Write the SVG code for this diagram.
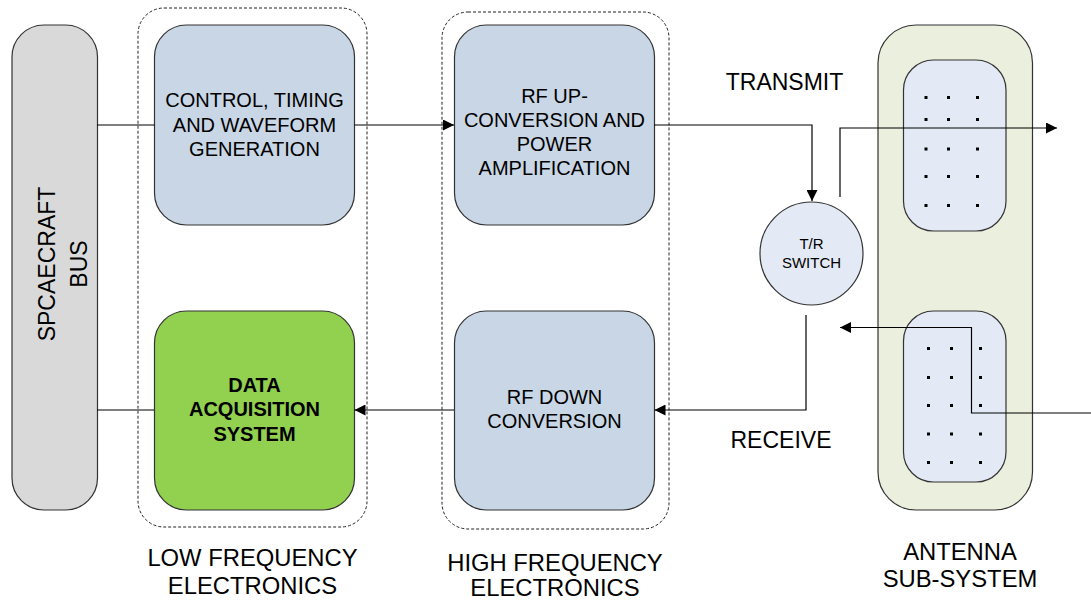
<svg xmlns="http://www.w3.org/2000/svg" width="1091" height="605" viewBox="0 0 1091 605">
<style>
text{font-family:"Liberation Sans",Arial,sans-serif;fill:#000;text-anchor:middle}
.box{fill:#C8D6E5;stroke:#333;stroke-width:1.2}
.grp{fill:none;stroke:#222;stroke-width:1;stroke-dasharray:3,2}
.c{fill:none;stroke:#000;stroke-width:1.2}
.bt{font-size:20px}
.lbl{font-size:23.8px}
.dot{fill:#000}
</style>
<defs>
<marker id="ah" viewBox="0 0 10 10" refX="10" refY="5" markerWidth="16" markerHeight="11" markerUnits="userSpaceOnUse" orient="auto">
<path d="M0,0 L10,5 L0,10 z" fill="#000"/>
</marker>
</defs>
<g id="low-freq-group">
<rect class="grp" x="138" y="8" width="229" height="519" rx="26"/>
<text class="lbl" x="252.5" y="566">LOW FREQUENCY</text>
<text class="lbl" x="252.5" y="594">ELECTRONICS</text>
</g>
<g id="high-freq-group">
<rect class="grp" x="442" y="12" width="227" height="517" rx="26"/>
<text class="lbl" x="555" y="570.5">HIGH FREQUENCY</text>
<text class="lbl" x="555" y="595.5">ELECTRONICS</text>
</g>
<g id="spacecraft-bus">
<rect x="12" y="25" width="85.5" height="485" rx="32" fill="#D9D9D9" stroke="#333" stroke-width="1.2"/>
<text font-size="23" transform="translate(55,264) rotate(-90)">SPCAECRAFT</text>
<text font-size="23" transform="translate(87,264) rotate(-90)">BUS</text>
</g>
<g id="control-timing">
<rect class="box" x="154.5" y="25" width="200" height="200" rx="32"/>
<text class="bt" x="254.5" y="107.3">CONTROL, TIMING</text>
<text class="bt" x="254.5" y="131.5">AND WAVEFORM</text>
<text class="bt" x="254.5" y="155.5">GENERATION</text>
</g>
<g id="data-acquisition">
<rect x="154.5" y="311" width="200" height="199" rx="32" fill="#92D050" stroke="#333" stroke-width="1.2"/>
<text class="bt" font-weight="bold" x="254.5" y="391.5">DATA</text>
<text class="bt" font-weight="bold" x="254.5" y="416">ACQUISITION</text>
<text class="bt" font-weight="bold" x="254.5" y="441">SYSTEM</text>
</g>
<g id="rf-up">
<rect class="box" x="454.5" y="25" width="200" height="200" rx="32"/>
<text class="bt" x="554.5" y="102.7">RF UP-</text>
<text class="bt" x="554.5" y="126.7">CONVERSION AND</text>
<text class="bt" x="554.5" y="150.7">POWER</text>
<text class="bt" x="554.5" y="175">AMPLIFICATION</text>
</g>
<g id="rf-down">
<rect class="box" x="454.5" y="311" width="200" height="199" rx="32"/>
<text class="bt" x="554.5" y="404.3">RF DOWN</text>
<text class="bt" x="554.5" y="428.3">CONVERSION</text>
</g>
<g id="tr-switch">
<circle cx="811.5" cy="253.5" r="51.5" fill="#E4EAF5" stroke="#333" stroke-width="1.2"/>
<text font-size="15" x="811.5" y="249.3">T/R</text>
<text font-size="15" x="811.5" y="268.3">SWITCH</text>
</g>
<g id="antenna">
<rect x="878" y="25" width="154.5" height="485" rx="38" fill="#EBEFDD" stroke="#333" stroke-width="1.2"/>
<rect x="903.5" y="60" width="102.5" height="171" rx="30" fill="#E4EAF5" stroke="#333" stroke-width="1.2"/>
<rect x="903.5" y="311" width="102.5" height="171" rx="30" fill="#E4EAF5" stroke="#333" stroke-width="1.2"/>
<g class="dot">
<rect x="924.5" y="96" width="3" height="3"/><rect x="947" y="96" width="3" height="3"/><rect x="976" y="96" width="3" height="3"/>
<rect x="924.5" y="118" width="3" height="3"/><rect x="947" y="118" width="3" height="3"/><rect x="976" y="118" width="3" height="3"/>
<rect x="924.5" y="147.5" width="3" height="3"/><rect x="947" y="147.5" width="3" height="3"/><rect x="976" y="147.5" width="3" height="3"/>
<rect x="924.5" y="175" width="3" height="3"/><rect x="947" y="175" width="3" height="3"/><rect x="976" y="175" width="3" height="3"/>
<rect x="924.5" y="204" width="3" height="3"/><rect x="947" y="204" width="3" height="3"/><rect x="976" y="204" width="3" height="3"/>
<rect x="927" y="347" width="3" height="3"/><rect x="950" y="347" width="3" height="3"/><rect x="979" y="347" width="3" height="3"/>
<rect x="927" y="376" width="3" height="3"/><rect x="950" y="376" width="3" height="3"/><rect x="979" y="376" width="3" height="3"/>
<rect x="927" y="404" width="3" height="3"/><rect x="950" y="404" width="3" height="3"/><rect x="979" y="404" width="3" height="3"/>
<rect x="927" y="432.5" width="3" height="3"/><rect x="950" y="432.5" width="3" height="3"/><rect x="979" y="432.5" width="3" height="3"/>
<rect x="927" y="461" width="3" height="3"/><rect x="950" y="461" width="3" height="3"/><rect x="979" y="461" width="3" height="3"/>
</g>
<text class="lbl" x="960" y="560">ANTENNA</text>
<text class="lbl" x="960" y="587">SUB-SYSTEM</text>
</g>
<g id="labels">
<text font-size="23" x="784.5" y="89.5">TRANSMIT</text>
<text font-size="23" x="781" y="448.3">RECEIVE</text>
</g>
<g id="connectors">
<polyline class="c" points="97,125 154.5,125"/>
<polyline class="c" points="354.5,125 454,125" marker-end="url(#ah)"/>
<polyline class="c" points="654,125 812,125 812,201" marker-end="url(#ah)"/>
<polyline class="c" points="840,197 840,128 1057,128" marker-end="url(#ah)"/>
<polyline class="c" points="1091,413 971.5,413 971.5,327.5 840,327.5" marker-end="url(#ah)"/>
<polyline class="c" points="806,315 806,410 654.5,410" marker-end="url(#ah)"/>
<polyline class="c" points="454,410 354.5,410" marker-end="url(#ah)"/>
<polyline class="c" points="154,410 97,410"/>
</g>
</svg>
